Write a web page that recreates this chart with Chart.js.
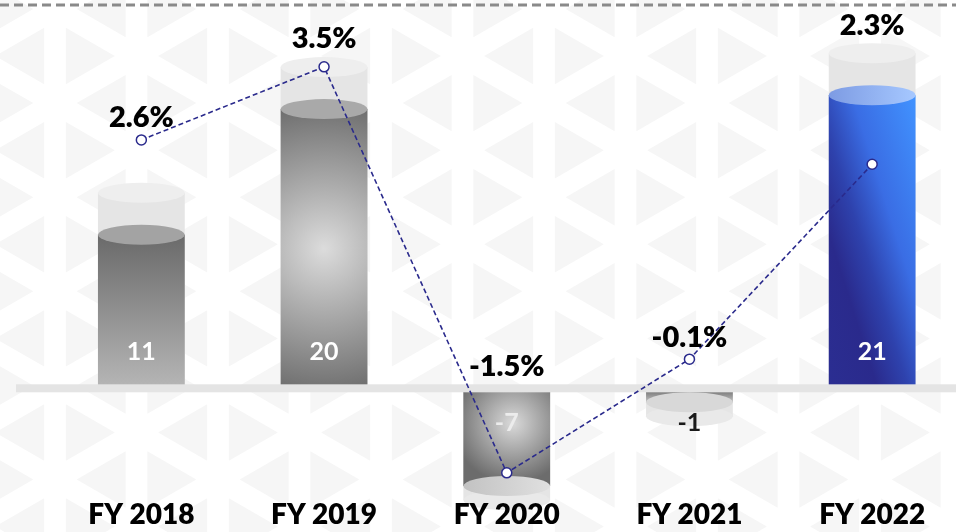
<!DOCTYPE html>
<html>
<head>
<meta charset="utf-8">
<script src="https://cdn.jsdelivr.net/npm/chart.js@4.4.1/dist/chart.umd.min.js"></script>
<style>
  html, body { margin: 0; padding: 0; background: #fff; overflow: hidden; }
  #wrap { width: 956px; height: 532px; overflow: hidden; }
</style>
</head>
<body>
<div id="wrap"><canvas id="growthChart" width="970" height="532"></canvas></div>
<script>
// values
const years = ['FY 2018', 'FY 2019', 'FY 2020', 'FY 2021', 'FY 2022'];
const values = [11, 20, -7, -1, 21];
const growth = [2.6, 3.5, -1.5, -0.1, 2.3];

// look
const FONT = 'Lato, "Open Sans", sans-serif';
const CAP_RY = 10;       // half height of the cylinder ellipses
const GLASS_UP = 42;     // how far the grey "glass" reaches past a positive bar
const GLASS_DOWN = 14;   // ... and past a negative one
const valueLabelColors = ['#ffffff', '#ffffff', '#ececec', '#1a1a1a', '#ffffff'];

function ellipse(g, cx, cy, rx, ry) {
    g.beginPath();
    g.ellipse(cx, cy, rx, ry, 0, 0, Math.PI * 2);
}

function bodyFill(g, i, l, r, t, b) {
    const cx = (l + r) / 2;
    let grad;
    if (i === 0) {
        grad = g.createLinearGradient(0, t, 0, b);
        grad.addColorStop(0, '#6a6a6a');
        grad.addColorStop(1, '#b6b6b6');
    } else if (i === 1) {
        const cy = (t + b) / 2;
        grad = g.createRadialGradient(cx, cy, 0, cx, cy, 155);
        grad.addColorStop(0, '#dcdcdc');
        grad.addColorStop(0.4, '#adadad');
        grad.addColorStop(1, '#676767');
    } else if (i === 2) {
        grad = g.createRadialGradient(cx + 6, t + 35, 0, cx + 6, t + 35, 60);
        grad.addColorStop(0, '#dadada');
        grad.addColorStop(1, '#6c6c6c');
    } else if (i === 3) {
        grad = g.createLinearGradient(0, t, 0, b);
        grad.addColorStop(0, '#666666');
        grad.addColorStop(1, '#c2c2c2');
    } else {
        // steep diagonal: bright at the upper right, navy at the lower left
        const w = r - l;
        grad = g.createLinearGradient(r, t, r - w * 1.9, t + w * 0.6);
        grad.addColorStop(0, '#4193ff');
        grad.addColorStop(0.35, '#3a6de4');
        grad.addColorStop(0.55, '#2e42ad');
        grad.addColorStop(0.72, '#2a2a8c');
        grad.addColorStop(1, '#2b2e92');
    }
    return grad;
}

function capFill(g, i, l, r) {
    if (i === 4) {
        const grad = g.createLinearGradient(l, 0, r, 0);
        grad.addColorStop(0, '#7d9be3');
        grad.addColorStop(1, '#a6c8ff');
        return grad;
    }
    if (i === 2) {
        const grad = g.createLinearGradient(l, 0, r, 0);
        grad.addColorStop(0, '#c2c2c2');
        grad.addColorStop(1, '#e0e0e0');
        return grad;
    }
    return ['#a3a3a3', '#a9a9a9', '', '#d8d8d8'][i];
}

// background: faint triangle lattice
function drawPattern(g, W, H) {
    const w = 81.5, h = w * 2 / Math.sqrt(3), x0 = 55 - 2 * w, y0 = 9, s = 0.6;
    g.fillStyle = '#f6f6f6';
    const tri = (pts) => {
        const cx = (pts[0][0] + pts[1][0] + pts[2][0]) / 3;
        const cy = (pts[0][1] + pts[1][1] + pts[2][1]) / 3;
        g.beginPath();
        pts.forEach((p, k) => {
            const px = cx + (p[0] - cx) * s, py = cy + (p[1] - cy) * s;
            k ? g.lineTo(px, py) : g.moveTo(px, py);
        });
        g.closePath();
        g.fill();
    };
    for (let c = 0; x0 + c * w < W; c++) {
        const xl = x0 + c * w, xr = xl + w;
        const off = (c % 2) * h / 2;
        for (let k = -2; y0 + off + k * h < H + h; k++) {
            const ya = y0 + off + k * h;
            tri([[xl, ya], [xl, ya + h], [xr, ya + h / 2]]);
            tri([[xr, ya + h / 2], [xr, ya + 1.5 * h], [xl, ya + h]]);
        }
    }
}

const cylinders = {
    id: 'cylinders',
    beforeDraw(chart) {
        const g = chart.ctx;
        g.save();
        g.fillStyle = '#fff';
        g.fillRect(0, 0, chart.width, chart.height);
        drawPattern(g, chart.width, chart.height);
        g.strokeStyle = '#8a8a8a';
        g.lineWidth = 3;
        g.setLineDash([9, 5]);
        g.beginPath();
        g.moveTo(0, 5);
        g.lineTo(chart.width, 5);
        g.stroke();
        g.restore();
    },
    beforeDatasetsDraw(chart) {
        // grey glass behind every bar
        const g = chart.ctx;
        g.save();
        chart.getDatasetMeta(0).data.forEach((bar, i) => {
            const up = values[i] >= 0;
            const half = bar.width / 2;
            const end = up ? bar.y - GLASS_UP : bar.y + GLASS_DOWN;
            g.fillStyle = '#e5e5e5';
            g.fillRect(bar.x - half, Math.min(end, bar.base), bar.width, Math.abs(bar.base - end));
            ellipse(g, bar.x, end, half, CAP_RY);
            g.fillStyle = up ? '#eeeeee' : '#e9e9e9';
            g.fill();
        });
        g.restore();
    },
    afterDatasetDraw(chart, args) {
        if (args.index !== 0) return;
        const g = chart.ctx;
        const y0 = chart.scales.y.getPixelForValue(0);
        g.save();
        g.fillStyle = '#e4e4e4';
        g.fillRect(16, y0 - 4, chart.width, 8);
        chart.getDatasetMeta(0).data.forEach((bar, i) => {
            const half = bar.width / 2;
            ellipse(g, bar.x, bar.y, half, CAP_RY);
            g.fillStyle = capFill(g, i, bar.x - half, bar.x + half);
            g.fill();
        });
        g.restore();
    },
    afterDatasetsDraw(chart) {
        const g = chart.ctx;
        const y0 = chart.scales.y.getPixelForValue(0);
        const bars = chart.getDatasetMeta(0).data;
        const pts = chart.getDatasetMeta(1).data;
        g.save();
        g.textAlign = 'center';
        g.textBaseline = 'middle';
        bars.forEach((bar, i) => {
            // value inside the cylinder
            g.font = 'bold 25px ' + FONT;
            g.fillStyle = valueLabelColors[i];
            g.fillText(String(values[i]), bar.x, values[i] >= 0 ? y0 - 36 : y0 + 35);
            // growth above everything in that column
            let top = Math.min(pts[i].y - 8, y0 - 8);
            if (values[i] >= 0) top = Math.min(top, bar.y - GLASS_UP - CAP_RY - 4);
            g.font = '800 29px ' + FONT;
            g.fillStyle = '#000';
            g.fillText(growth[i].toFixed(1) + '%', bar.x, top - 14);
        });
        g.restore();
    }
};

const ctx = document.getElementById('growthChart').getContext('2d');

new Chart(ctx, {
    data: {
        labels: years,
        datasets: [{
            type: 'bar',
            data: values,
            order: 1,
            barPercentage: 0.475,
            categoryPercentage: 1,
            borderSkipped: false,
            borderRadius: (c) => (c.raw >= 0
                ? { topLeft: 0, topRight: 0, bottomLeft: 4, bottomRight: 4 }
                : { topLeft: 4, topRight: 4, bottomLeft: 0, bottomRight: 0 }),
            backgroundColor: (c) => {
                const chart = c.chart;
                if (c.type !== 'data' || !chart.chartArea) return '#888';
                const { x, y } = chart.scales;
                const cx = x.getPixelForValue(c.dataIndex);
                const half = (x.width / years.length) * 0.475 / 2;
                const a = y.getPixelForValue(c.raw), b = y.getPixelForValue(0);
                return bodyFill(chart.ctx, c.dataIndex, cx - half, cx + half, Math.min(a, b), Math.max(a, b));
            }
        }, {
            type: 'line',
            data: growth,
            yAxisID: 'y1',
            order: 0,
            borderColor: '#2a2a8c',
            borderWidth: 1.6,
            borderDash: [5, 3],
            tension: 0,
            pointRadius: 5,
            pointBackgroundColor: '#ffffff',
            pointBorderColor: '#2a2a8c',
            pointBorderWidth: 1.5
        }]
    },
    options: {
        responsive: false,
        animation: false,
        layout: { padding: { left: 50, right: 0, top: 10, bottom: 0 } },
        plugins: { legend: { display: false }, tooltip: { enabled: false } },
        scales: {
            x: {
                grid: { display: false, drawTicks: false },
                border: { display: false },
                ticks: { z: 1, padding: 2, color: '#000', font: { family: FONT, size: 28, weight: '800', lineHeight: 1.1 } }
            },
            y: { display: false, min: -7.8, max: 27.1 },
            y1: { display: false, position: 'right', min: -1.8, max: 4.2 }
        }
    },
    plugins: [cylinders]
});
</script>
</body>
</html>
